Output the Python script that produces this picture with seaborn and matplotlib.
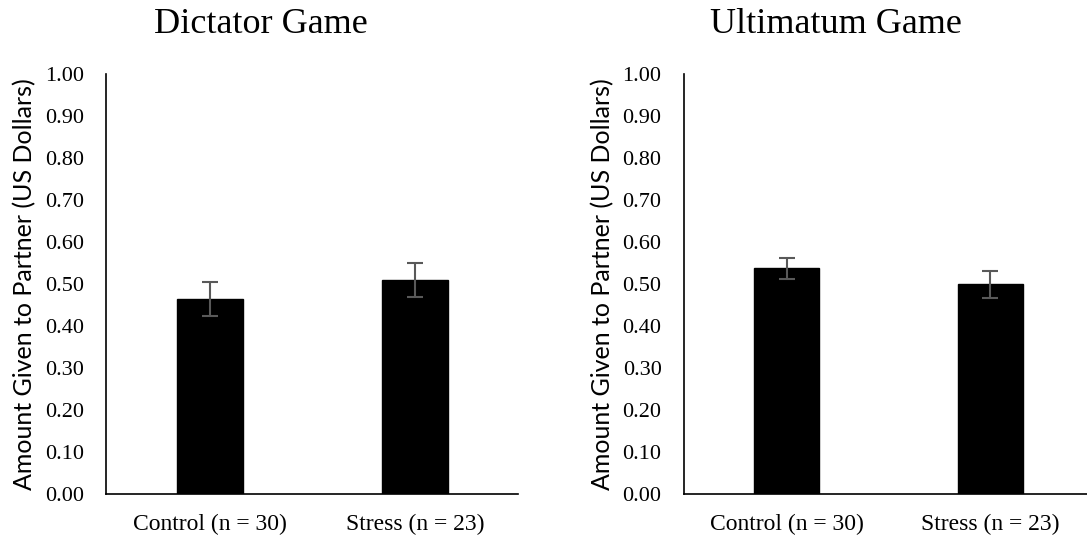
import numpy as np
import pandas as pd
import matplotlib
matplotlib.use("Agg")
import matplotlib.pyplot as plt
import seaborn as sns

# ── Data ──────────────────────────────────────────────────────────────────────
GROUPS      = ["Control (n = 30)", "Stress (n = 23)"]
GAMES       = ["Dictator Game", "Ultimatum Game"]
DICT_MEAN   = [0.464, 0.510]
DICT_ERR    = [0.041, 0.040]
ULT_MEAN    = [0.538, 0.500]
ULT_ERR     = [0.025, 0.032]
Y_TICKS     = [0.0, 0.1, 0.2, 0.3, 0.4, 0.5, 0.6, 0.7, 0.8, 0.9, 1.0]
Y_LABEL     = "Amount Given to Partner (US Dollars)"

sns.set_style("white")
plt.rcParams["font.family"] = ["Liberation Serif", "DejaVu Serif"]
for key in ["text.color", "axes.labelcolor", "xtick.color", "ytick.color"]:
    plt.rcParams[key] = "black"

fig = plt.figure(figsize=(10.87, 5.37), dpi=100)
ax_pos = [[0.0975, 0.080, 0.379, 0.782],
          [0.629, 0.080, 0.3755, 0.782]]


def draw_panel(ax, means, errs, title, title_x):
    df = pd.DataFrame({"group": GROUPS, "amount": means})
    sns.barplot(data=df, x="group", y="amount", order=GROUPS, color="black",
                width=0.32, saturation=1, edgecolor="black", ax=ax)
    ax.errorbar(GROUPS, means, yerr=errs, fmt="none", ecolor="#595959",
                elinewidth=1.5, capsize=5.5, capthick=1.5, zorder=5)
    ax.set_xlim(-0.505, 1.5)
    ax.set_ylim(0, 1.0)
    ax.set_yticks(Y_TICKS)
    ax.set_yticklabels([f"{v:.2f}" for v in Y_TICKS])
    ax.set_xlabel("")
    ax.set_ylabel(Y_LABEL, family=["Lato", "DejaVu Sans"], fontsize=18,
                  labelpad=6)
    ax.tick_params(axis="y", length=0, pad=16, labelsize=16)
    ax.tick_params(axis="x", length=0, pad=14, labelsize=17)
    sns.despine(ax=ax)
    for s in ["left", "bottom"]:
        ax.spines[s].set_color("black")
        ax.spines[s].set_linewidth(1.2)
    fig.text(title_x, 1 - 33 / 537, title, ha="center", va="baseline",
             fontsize=26)


ax1 = fig.add_axes(ax_pos[0])
draw_panel(ax1, DICT_MEAN, DICT_ERR, GAMES[0], 0.240)
ax2 = fig.add_axes(ax_pos[1])
draw_panel(ax2, ULT_MEAN, ULT_ERR, GAMES[1], 0.769)

plt.savefig("out.png", dpi=100)
plt.close()
